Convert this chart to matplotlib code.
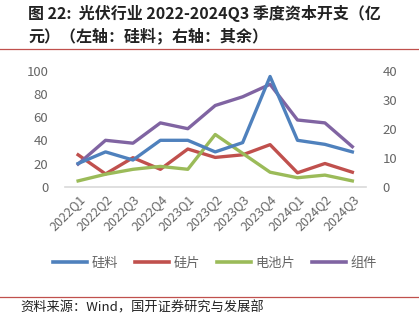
import matplotlib
matplotlib.use('Agg')
from matplotlib import pyplot as plt
from matplotlib.lines import Line2D

plt.rcParams['font.family'] = ['Noto Sans CJK SC', 'DejaVu Sans']

quarters = ['2022Q1', '2022Q2', '2022Q3', '2022Q4', '2023Q1', '2023Q2',
            '2023Q3', '2023Q4', '2024Q1', '2024Q2', '2024Q3']
silicon = [20, 30, 23, 40, 40, 30, 38, 95, 40, 36.5, 30]     # left axis
wafer = [11, 4.4, 10, 6, 13, 10.1, 11, 14.5, 4.8, 8, 5]       # right axis
cell = [2, 4.3, 6, 7, 6, 18, 11.5, 5, 3.1, 4, 2]
module = [7.8, 16, 15, 22, 20, 28, 31, 35.3, 23, 22, 13.8]

c_blue, c_red, c_green, c_purple = '#4F81BD', '#C0504D', '#9BBB59', '#8064A2'
grey = '#666666'
lw = 2.4

fig = plt.figure(figsize=(4.19, 3.25), dpi=100)
ax1 = fig.add_axes([0.155, 0.4255, 0.718, 0.357])
ax2 = ax1.twinx()

x = range(len(quarters))
ax1.plot(x, silicon, color=c_blue, lw=lw, solid_joinstyle='round', zorder=3)
ax2.plot(x, wafer, color=c_red, lw=lw, solid_joinstyle='round')
ax2.plot(x, cell, color=c_green, lw=lw, solid_joinstyle='round')
ax2.plot(x, module, color=c_purple, lw=lw, solid_joinstyle='round')
ax1.set_zorder(ax2.get_zorder() + 1)
ax1.patch.set_visible(False)

ax1.set_xlim(-0.48, 10.49)
ax1.set_ylim(0, 100)
ax2.set_ylim(0, 40)
ax1.set_yticks(range(0, 101, 20))
ax2.set_yticks(range(0, 41, 10))
ax1.set_xticks(list(x))
ax1.set_xticklabels(quarters, rotation=45, ha='right', va='top',
                    rotation_mode='anchor')

for a in (ax1, ax2):
    for s in a.spines.values():
        s.set_visible(False)
    a.tick_params(length=0, labelsize=9.5, labelcolor=grey)
ax1.spines['bottom'].set_visible(True)
ax1.spines['bottom'].set_color('#D9D9D9')
ax1.spines['bottom'].set_linewidth(1.2)
ax1.tick_params(axis='y', pad=12)
ax2.tick_params(axis='y', pad=12)
ax1.tick_params(axis='x', pad=4, labelsize=9)

handles = [Line2D([], [], color=c, lw=2.6) for c in (c_blue, c_red, c_green, c_purple)]
fig.legend(handles, ['硅料', '硅片', '电池片', '组件'], loc='center',
           bbox_to_anchor=(0.513, 1 - 263 / 325), ncol=4, frameon=False,
           fontsize=9.5, handlelength=2.6, handletextpad=0.3, columnspacing=1.3,
           labelcolor=grey)

fig.text(0.067, 1 - 13 / 325, '图 22:  光伏行业 2022-2024Q3 季度资本开支（亿',
         fontsize=11.5, fontweight='bold', va='center', color='#222222')
fig.text(0.067, 1 - 36 / 325, '元）（左轴：硅料；右轴：其余）',
         fontsize=11.5, fontweight='bold', va='center', color='#222222')
fig.add_artist(Line2D([0, 1], [1 - 49 / 325] * 2, color='#C0504D', lw=0.9))
fig.add_artist(Line2D([0, 1], [1 - 297 / 325] * 2, color='#C0504D', lw=0.9))
fig.text(0.048, 1 - 308 / 325, '资料来源：Wind，国开证券研究与发展部',
         fontsize=9.5, va='center', color='#222222')

fig.savefig('out.png', dpi=100)
